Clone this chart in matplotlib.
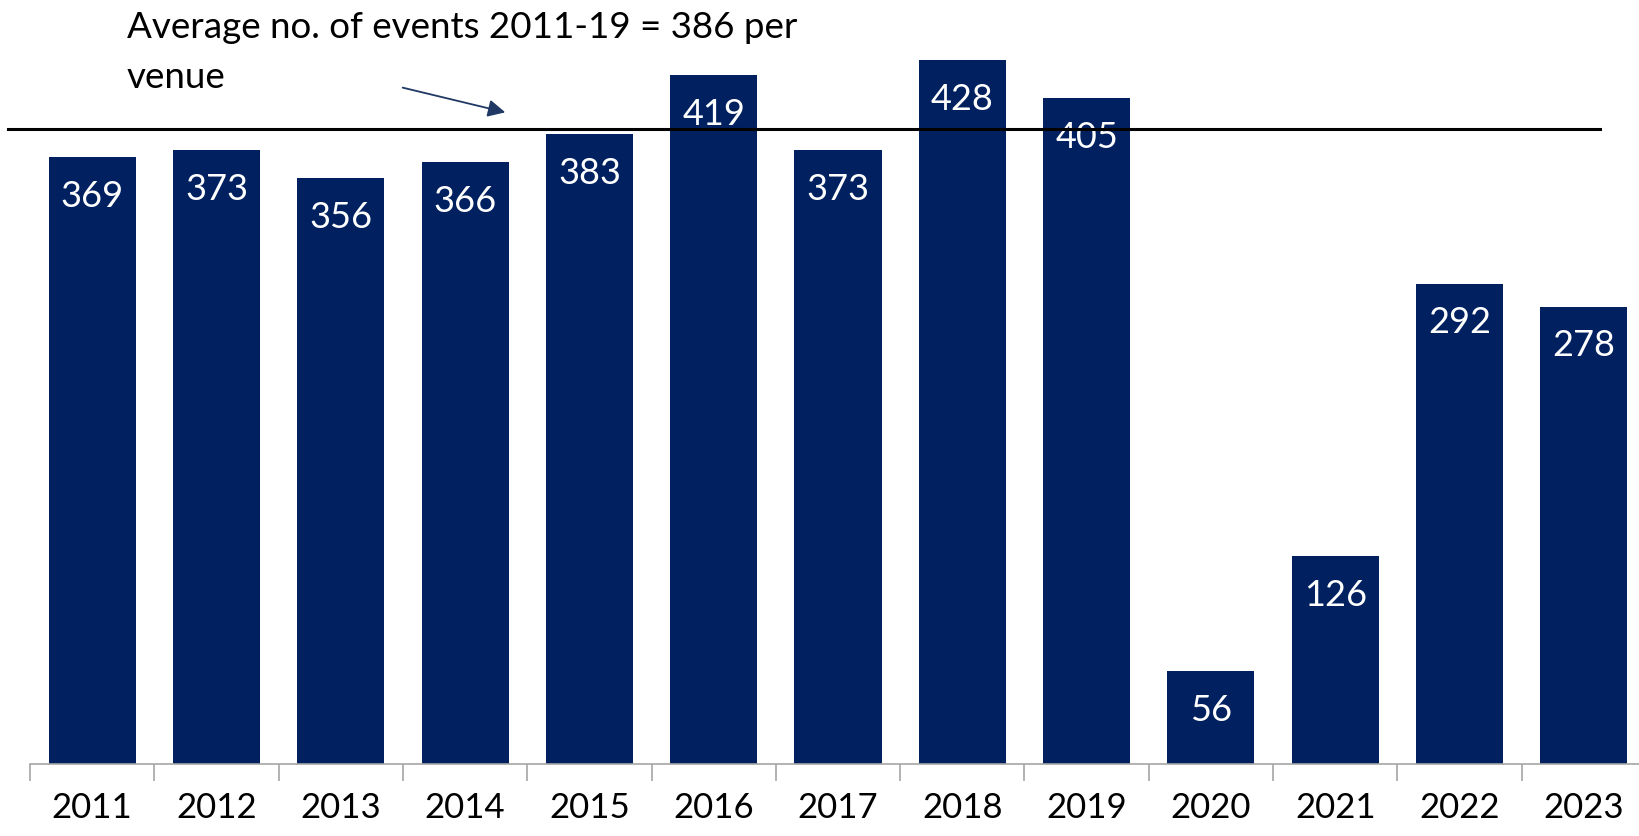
import numpy as np
import matplotlib.pyplot as plt

# events per venue by year
years = ['2011', '2012', '2013', '2014', '2015', '2016', '2017',
         '2018', '2019', '2020', '2021', '2022', '2023']
events = [369, 373, 356, 366, 383, 419, 373, 428, 405, 56, 126, 292, 278]
avg_2011_19 = 386

plt.rcParams['font.family'] = ['Lato', 'DejaVu Sans']

fig = plt.figure(figsize=(16.4, 8.37), dpi=100)
ax = fig.add_axes([30 / 1640, 72.5 / 837, 1616 / 1640, 756 / 837])

x = np.arange(len(years))
bars = ax.bar(x, events, width=0.70, color='#002060', zorder=2)

for xi, v in zip(x, events):
    ax.annotate(str(v), (xi, v), xytext=(0, -27.5), textcoords='offset points',
                ha='center', va='center', color='white', fontsize=26, zorder=3)

# average line for 2011-19
ax.axhline(avg_2011_19, xmin=-0.0134, xmax=0.9715, color='black', lw=2.2,
           clip_on=False, zorder=4)

ax.annotate('', xy=(508 / 1640, 1 - 114 / 837), xycoords='figure fraction',
            xytext=(400 / 1640, 1 - 88 / 837), textcoords='figure fraction',
            arrowprops=dict(arrowstyle='-|>', color='#1F3864', lw=1.3,
                            mutation_scale=26))
fig.text(127 / 1640, 1 - 28 / 837, 'Average no. of events 2011-19 = 386 per',
         ha='left', va='center', fontsize=26.5)
fig.text(127 / 1640, 1 - 78 / 837, 'venue', ha='left', va='center', fontsize=26.5)

ax.set_xlim(-0.5, len(years) - 0.5)
ax.set_ylim(0, 460)

for s in ['top', 'right', 'left']:
    ax.spines[s].set_visible(False)
ax.spines['bottom'].set_color('#A6A6A6')
ax.spines['bottom'].set_linewidth(1.2)

ax.set_yticks([])
ax.set_xticks(x)
ax.set_xticklabels(years, fontsize=25)
ax.tick_params(axis='x', which='major', length=0, pad=20)
ax.set_xticks(np.arange(len(years) + 1) - 0.5, minor=True)
ax.tick_params(axis='x', which='minor', length=12, color='#A6A6A6', width=1.2)

fig.savefig('out.png', dpi=100)
